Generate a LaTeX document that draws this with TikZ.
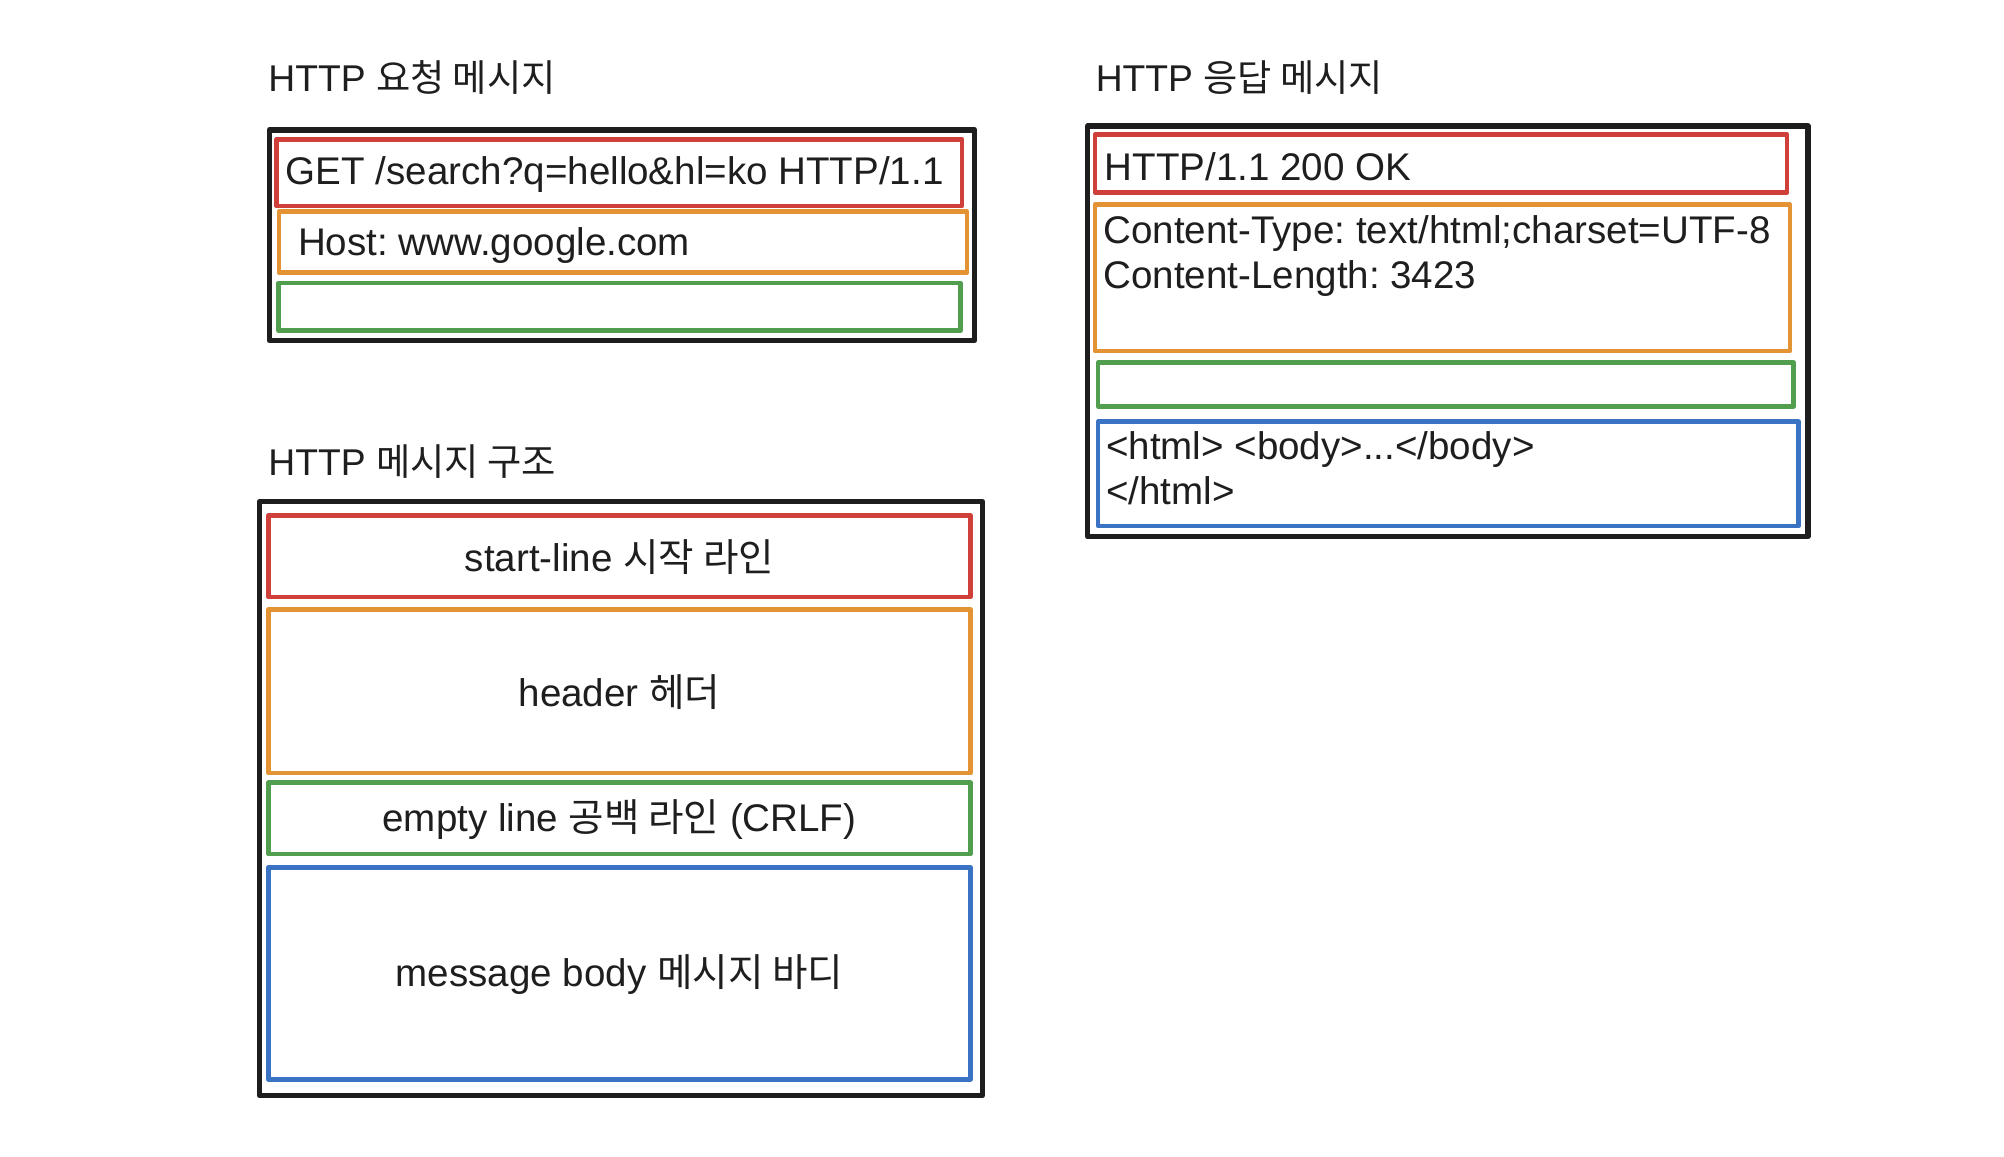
\documentclass[tikz,border=0pt]{standalone}
\usepackage{fontspec}
\setmainfont{Liberation Sans}
\newfontfamily\ko{Noto Sans CJK KR}
\frenchspacing
\definecolor{cred}{HTML}{D0403A}
\definecolor{corange}{HTML}{E39334}
\definecolor{cgreen}{HTML}{519E4F}
\definecolor{cblue}{HTML}{3A72C4}
\definecolor{cblack}{HTML}{1E1E1E}
\begin{document}
\begin{tikzpicture}[x=1pt,y=-1pt,
  frame/.style={draw=cblack,line width=4.2pt,line join=round,inner sep=0pt,outer sep=0pt},
  band/.style={draw=#1,line width=3.6pt,line join=round,inner sep=0pt,outer sep=0pt},
  txt/.style={inner sep=0pt,outer sep=0pt,font=\fontsize{30}{35}\selectfont,text=cblack},
  ttl/.style={inner sep=0pt,outer sep=0pt,anchor=west,font=\fontsize{29}{34}\selectfont,text=cblack},
  lt/.style={txt,anchor=west,align=left}]
\useasboundingbox (0,0) rectangle (1560,900);
\fill[white] (0,0) rectangle (1560,900);

% ---------- request ----------
\node[ttl] (t1) at (209,60) {HTTP {\ko 요청 메시지}};
\node[frame,minimum width=549pt,minimum height=164pt] (reqbox) at (484.2,183.1) {};
\node[band=cred,minimum width=533.6pt,minimum height=52pt] (req1) at (482.1,134.4) {};
\node[band=corange,minimum width=535.5pt,minimum height=47.5pt] (req2) at (485,188.5) {};
\node[band=cgreen,minimum width=530.8pt,minimum height=37pt] (req3) at (482.2,238.8) {};
\node[lt] (req1t) at (222.6,136) {GET /search?q=hello\&hl=ko HTTP/1.1};
\node[lt] (req2t) at (232,191) {Host: www.google.com};

% ---------- structure ----------
\node[ttl] (t2) at (209,359) {HTTP {\ko 메시지 구조}};
\node[frame,minimum width=562.8pt,minimum height=462.4pt] (strbox) at (483.3,621.7) {};
\node[band=cred,minimum width=546.5pt,minimum height=63.3pt] (s1) at (482.2,433) {};
\node[band=corange,minimum width=546.5pt,minimum height=127.4pt] (s2) at (482.2,538) {};
\node[band=cgreen,minimum width=546.5pt,minimum height=55.4pt] (s3) at (482.2,637) {};
\node[band=cblue,minimum width=546.5pt,minimum height=164.9pt] (s4) at (482.2,757.7) {};
\node[txt] (s1t) at ([yshift=-1pt]s1) {start-line {\ko 시작 라인}};
\node[txt] (s2t) at ([yshift=-1pt]s2) {header {\ko 헤더}};
\node[txt] (s3t) at ([yshift=-1pt]s3) {empty line {\ko 공백 라인} (CRLF)};
\node[txt] (s4t) at ([yshift=-1pt]s4) {message body {\ko 메시지 바디}};

% ---------- response ----------
\node[ttl] (t3) at (853,60) {HTTP {\ko 응답 메시지}};
\node[frame,minimum width=560.7pt,minimum height=319.6pt] (resbox) at (1127,257.9) {};
\node[band=cred,minimum width=538.8pt,minimum height=44.9pt] (r1) at (1121.8,127.3) {};
\node[band=corange,minimum width=540.9pt,minimum height=113.9pt] (r2) at (1122.8,216.3) {};
\node[band=cgreen,minimum width=541.4pt,minimum height=33.9pt] (r3) at (1125.5,299.3) {};
\node[band=cblue,minimum width=545.1pt,minimum height=81.2pt] (r4) at (1127.4,368.9) {};
\node[lt] (r1t) at (860,130) {HTTP/1.1 200 OK};
\node[txt,anchor=north west,align=left] (r2t) at (859,168) {Content-Type: text/html;charset=UTF-8\\Content-Length: 3423};
\node[txt,anchor=north west,align=left] (r4t) at (861,336) {<html> <body>...</body>\\</html>};
\end{tikzpicture}
\end{document}
